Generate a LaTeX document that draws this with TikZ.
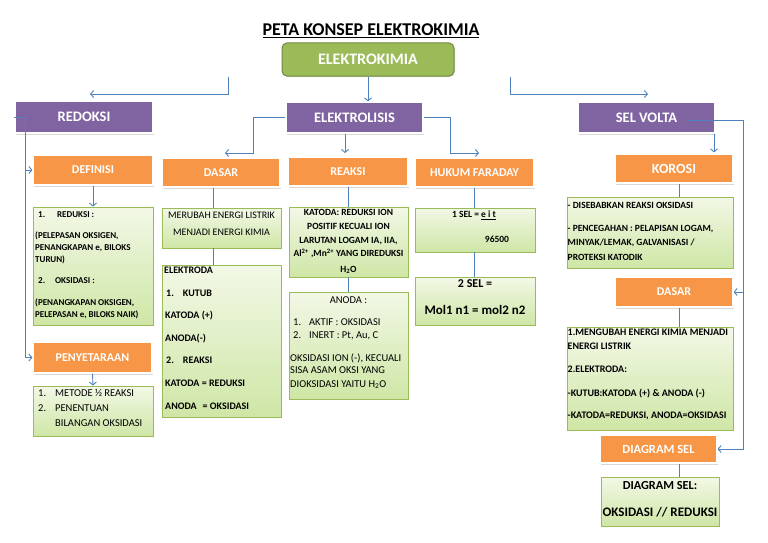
\documentclass[tikz,border=0pt]{standalone}
\usepackage{fontspec}
\setmainfont{Carlito}
\usetikzlibrary{shadows,calc,arrows.meta}
\definecolor{pur}{HTML}{8064A2}
\definecolor{org}{HTML}{F79646}
\definecolor{ekfill}{HTML}{9BBB59}
\definecolor{ekedge}{HTML}{71893F}
\definecolor{lnkc}{HTML}{4F81BD}
\definecolor{gtop}{HTML}{F2F8E6}
\definecolor{gbot}{HTML}{CFE6A6}
\definecolor{gedge}{HTML}{9BBB59}
\newcommand{\fsz}[1]{\fontsize{#1}{#1}\selectfont}
\begin{document}
\begin{tikzpicture}[x=1pt,y=-1pt,
  hdrbase/.style={rectangle, draw=white, line width=1.2pt, text=white, inner sep=0pt,
    drop shadow={shadow xshift=1.2pt, shadow yshift=-1.5pt, fill=black!30}},
  purbox/.style={hdrbase, fill=pur, font=\bfseries\fsz{14.5}},
  orgbox/.style={hdrbase, fill=org, font=\bfseries\fsz{12}},
  grnbox/.style={rectangle, draw=gedge, line width=0.8pt, top color=gtop, bottom color=gbot,
    inner sep=0pt, drop shadow={shadow xshift=1pt, shadow yshift=-1.2pt, fill=black!20}},
  txt/.style={inner sep=0pt, align=left, anchor=north west},
  ctxt/.style={inner sep=0pt, align=center},
  lnk/.style={draw=lnkc, line width=0.9pt},
  arr/.style={lnk, -{Straight Barb[length=3pt,width=7pt]}}
]
\useasboundingbox[fill=white] (0,0) rectangle (768,543);

% title
\node[ctxt, font=\bfseries\fsz{18}] (title) at (371,31) {\underline{PETA KONSEP ELEKTROKIMIA}};

% root
\node[rectangle, rounded corners=5pt, fill=ekfill, draw=ekedge, line width=1pt, text=white,
  font=\bfseries\fsz{16}, minimum width=172pt, minimum height=33pt,
  drop shadow={shadow xshift=1pt, shadow yshift=-1.2pt, fill=black!25}] (ekim) at (368,59.5) {ELEKTROKIMIA};

% purple headers
\node[purbox, minimum width=138pt, minimum height=32pt] (redoksi) at (84,117) {REDOKSI};
\node[purbox, minimum width=137pt, minimum height=31pt] (elektrolisis) at (354.5,117.5) {ELEKTROLISIS};
\node[purbox, minimum width=137pt, minimum height=31pt] (selvolta) at (646.5,117.5) {SEL VOLTA};

% orange headers
\node[orgbox, minimum width=120pt, minimum height=30pt] (definisi) at (93,170) {DEFINISI};
\node[orgbox, minimum width=118pt, minimum height=29pt] (dasarL) at (221,172.5) {DASAR};
\node[orgbox, minimum width=120pt, minimum height=29pt] (reaksi) at (348,171.5) {REAKSI};
\node[orgbox, minimum width=119pt, minimum height=29pt] (faraday) at (474.5,172.5) {HUKUM FARADAY};
\node[orgbox, minimum width=118pt, minimum height=29pt, font=\bfseries\fsz{14}] (korosi) at (674,168.5) {KOROSI};
\node[orgbox, minimum width=119pt, minimum height=31pt] (penyet) at (92.5,357.5) {PENYETARAAN};
\node[orgbox, minimum width=118pt, minimum height=30pt] (dasarR) at (674,292) {DASAR};
\node[orgbox, minimum width=117pt, minimum height=28pt, font=\bfseries\fsz{12.5}] (diagsel) at (658.5,449) {DIAGRAM SEL};

% green boxes
\node[grnbox, minimum width=120pt, minimum height=118pt] (defbox) at (93,266) {};
\node[grnbox, minimum width=120pt, minimum height=50pt] (penbox) at (93,411) {};
\node[grnbox, minimum width=119pt, minimum height=40pt] (merubah) at (221.5,228) {};
\node[grnbox, minimum width=119pt, minimum height=152pt] (elektroda) at (221.5,341) {};
\node[grnbox, minimum width=119pt, minimum height=70pt] (katoda) at (348.5,242) {};
\node[grnbox, minimum width=119pt, minimum height=107pt] (anoda) at (348.5,345.5) {};
\node[grnbox, minimum width=120pt, minimum height=44pt] (sel1) at (475,230) {};
\node[grnbox, minimum width=120pt, minimum height=48pt] (sel2) at (475,301) {};
\node[grnbox, minimum width=166pt, minimum height=71pt] (korbox) at (650,232.5) {};
\node[grnbox, minimum width=166pt, minimum height=103pt] (dasRbox) at (650,378.5) {};
\node[grnbox, minimum width=118pt, minimum height=49pt] (diagbox) at (660,501.5) {};

% texts in green boxes
\node[txt, font=\bfseries\fontsize{9}{12}\selectfont] (defboxT) at (35,211) {%
\hspace*{3pt}1.\hspace{12pt}REDUKSI :\\[9pt]
(PELEPASAN OKSIGEN,\\
PENANGKAPAN e, BILOKS\\
TURUN)\\[9pt]
\hspace*{3pt}2.\hspace{10pt}OKSIDASI :\\[10pt]
(PENANGKAPAN OKSIGEN,\\
PELEPASAN e, BILOKS NAIK)};

\node[txt, font=\fontsize{10.5}{15}\selectfont] (penboxT) at (38,389.5) {%
\makebox[17pt][l]{1.}METODE ½ REAKSI\\
\makebox[17pt][l]{2.}PENENTUAN\\
\hspace*{17pt}BILANGAN OKSIDASI};

\node[ctxt, anchor=north, font=\fontsize{10}{17}\selectfont] (merubahT) at (221.5,211.5) {%
MERUBAH ENERGI LISTRIK\\ MENJADI ENERGI KIMIA};

\node[txt, font=\bfseries\fontsize{10}{22.6}\selectfont] (elektrodaT) at (164,266.8) {%
ELEKTRODA\\
\hspace*{2pt}1.\hspace{9pt}KUTUB\\
\hspace*{1pt}KATODA (+)\\
\hspace*{1pt}ANODA(-)\\
\hspace*{2pt}2.\hspace{9pt}REAKSI\\
\hspace*{1pt}KATODA = REDUKSI\\
\hspace*{1pt}ANODA\hspace{6pt}= OKSIDASI};

\node[ctxt, anchor=north, font=\bfseries\fontsize{9.5}{13.8}\selectfont] (katodaT) at (348.5,209) {%
KATODA: REDUKSI ION\\
POSITIF KECUALI ION\\
LARUTAN LOGAM IA, IIA,\\
Al\textsuperscript{2+} ,Mn\textsuperscript{2+} YANG DIREDUKSI\\[2pt]
H\textsubscript{2}O};

\node[ctxt, font=\fsz{10.5}] (anodaT1) at (348.5,300) {ANODA :};
\node[txt, font=\fontsize{10.5}{12.5}\selectfont] (anodaT2) at (290,318.6) {%
\hspace*{3pt}1.\hspace{8pt}AKTIF : OKSIDASI\\
\hspace*{3pt}2.\hspace{8pt}INERT : Pt, Au, C\\[10.5pt]
OKSIDASI ION (-), KECUALI\\
SISA ASAM OKSI YANG\\[1pt]
DIOKSIDASI YAITU H\textsubscript{2}O};

\node[ctxt, font=\bfseries\fsz{9.5}] (sel1T1) at (474,215) {1 SEL = \underline{e i t}};
\node[ctxt, font=\bfseries\fsz{9.5}] (sel1T2) at (497,239) {96500};
\node[ctxt, font=\bfseries\fsz{12}] (sel2T1) at (475,284) {2 SEL =};
\node[ctxt, font=\bfseries\fsz{13}] (sel2T2) at (475,310) {Mol1 n1 = mol2 n2};

\node[txt, font=\bfseries\fontsize{9.5}{14.3}\selectfont] (korboxT) at (567.5,202) {%
- DISEBABKAN REAKSI OKSIDASI\\[8.7pt]
- PENCEGAHAN : PELAPISAN LOGAM,\\
MINYAK/LEMAK, GALVANISASI /\\
PROTEKSI KATODIK};

\node[txt, font=\bfseries\fontsize{10}{14}\selectfont] (dasRboxT) at (567.5,328.8) {%
1.MENGUBAH ENERGI KIMIA MENJADI\\
ENERGI LISTRIK\\[9pt]
2.ELEKTRODA:\\[10pt]
-KUTUB:KATODA (+) \& ANODA (-)\\[8pt]
-KATODA=REDUKSI, ANODA=OKSIDASI};

\node[ctxt, font=\bfseries\fsz{12.3}] (diagboxT1) at (660,486) {DIAGRAM SEL:};
\node[ctxt, font=\bfseries\fsz{13}] (diagboxT2) at (660,512) {OKSIDASI // REDUKSI};

% connectors from root
\coordinate (ekL) at (228,94);
\coordinate (ekLt) at (90,94);
\coordinate (ekR) at (510,94);
\coordinate (ekRt) at (648,94);
\draw[arr] (ekim.south -| ekL) -- (ekL) -- (ekLt);
\draw[arr] (ekim.south -| ekR) -- (ekR) -- (ekRt);
\draw[arr] (ekim.south) -- (ekim.south |- elektrolisis.north);

% elektrolisis branches
\coordinate (elL) at (253,153);
\coordinate (elLt) at (225,153);
\coordinate (elR) at (450,153);
\coordinate (elRt) at (479,153);
\coordinate (elMt) at (345,153);
\draw[arr] (elektrolisis.west) -| (elL) -- (elLt);
\draw[arr] (elektrolisis.east) -| (elR) -- (elRt);
\draw[arr] (elektrolisis.south -| elMt) -- (elMt);

% redoksi branches
\coordinate (rdT) at (25,118);
\draw[arr] (redoksi.west) -- (redoksi.west -| rdT) |- (penyet.west);
\draw[arr] (definisi.west -| rdT) -- (definisi.west);
\draw[arr] (definisi.south) -- (defbox.north);
\draw[arr] (penyet.south) -- (penbox.north);

% elektrolisis columns
\coordinate (dLx) at ($(dasarL.south)+(-8,0)$);
\draw[lnk] (dLx) -- (dLx |- merubah.north);
\draw[lnk] (dLx |- merubah.south) -- (dLx |- elektroda.north);
\draw[lnk] (reaksi.south) -- (reaksi.south |- katoda.north);
\draw[lnk] (reaksi.south |- katoda.south) -- (reaksi.south |- anoda.north);
\draw[lnk] (faraday.south) -- (faraday.south |- sel1.north);
\draw[lnk] (faraday.south |- sel1.south) -- (faraday.south |- sel2.north);

% sel volta branches
\coordinate (svA) at (714,0);
\draw[arr] (selvolta.south -| svA) -- ($(korosi.north -| svA)+(0,-1)$);
\coordinate (svS) at ($(selvolta.center)+(40.5,2.5)$);
\coordinate (svT) at (743,120);
\draw[arr] (svS) -- (svT) |- (diagsel.east);
\draw[arr] (dasarR.east -| svT) -- (dasarR.east);

\coordinate (kx) at ($(korosi.south)+(5,0)$);
\draw[lnk] (kx) -- (kx |- korbox.north);
\coordinate (drx) at ($(dasarR.south)+(5,0)$);
\draw[lnk] (drx) -- (drx |- dasRbox.north);
\coordinate (dsx) at ($(diagsel.south)+(20.5,0)$);
\draw[lnk] (dsx) -- (dsx |- diagbox.north);
\end{tikzpicture}
\end{document}
